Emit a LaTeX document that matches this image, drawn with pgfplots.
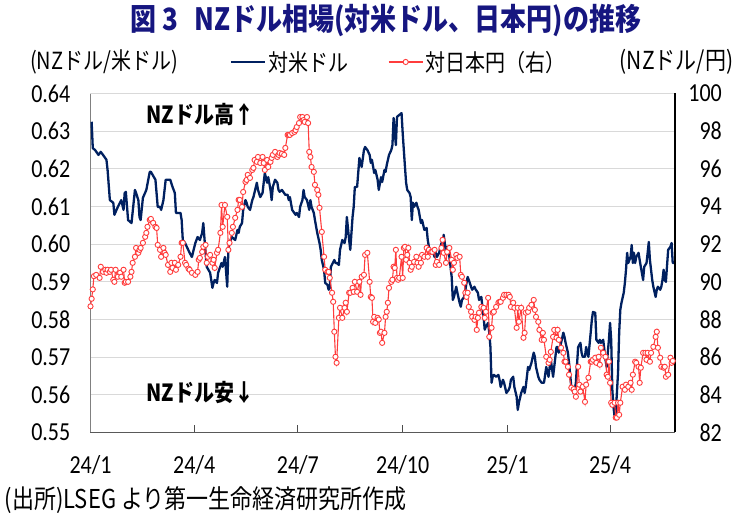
\documentclass[border=0pt]{standalone}
\usepackage{pgfplots}
\pgfplotsset{compat=1.18}
\usepackage{graphicx}
\usepackage{fontspec}
\setmainfont{Carlito}
\newfontfamily\jp{Noto Sans CJK JP}
\definecolor{usdnavy}{RGB}{0,32,96}
\definecolor{jpyred}{RGB}{255,60,60}
\definecolor{titleblue}{RGB}{22,22,128}
\definecolor{gridgray}{RGB}{217,217,217}
\definecolor{axisgray}{RGB}{128,128,128}
\newcommand\numfont{\fontsize{22bp}{24bp}\selectfont}
\newcommand\jpfont{\jp\fontsize{20bp}{22bp}\selectfont}
% text in this chart is set slightly condensed (tall glyphs)
\newcommand\tall[1]{\scalebox{1}[1.18]{#1}}

\pgfplotsset{
  base/.style={
    scale only axis, width=584.5bp, height=339bp,
    xmin=0, xmax=513,
    /pgf/number format/assume math mode=true,
    major tick length=7bp,
  }
}

\begin{document}
\begin{tikzpicture}
\path[use as bounding box] (-90.5bp,-92.5bp) rectangle (654.5bp,432.5bp);

% NZD/USD, left axis (days counted from 2024-01-01)
\begin{axis}[base,
  ymin=0.55, ymax=0.64,
  axis x line*=bottom, axis y line*=left,
  x axis line style={draw=black!65, line width=1.2bp},
  y axis line style={draw=axisgray, line width=1.2bp},
  ytick={0.55,0.56,0.57,0.58,0.59,0.60,0.61,0.62,0.63,0.64},
  ytick style={draw=none},
  ymajorgrids, major grid style={draw=gridgray, line width=1.2bp},
  xtick={0,91,182,274,366,456},
  xticklabels={\tall{24/1},\tall{24/4},\tall{24/7},\tall{24/10},\tall{25/1},\tall{25/4}},
  xtick align=inside,
  xtick style={draw=black!70, line width=1bp},
  xticklabel style={font=\numfont, anchor=center, inner sep=0pt, yshift=-32.5bp},
  yticklabel={\tall{\pgfmathprintnumber[fixed,fixed zerofill,precision=2]{\tick}}},
  yticklabel style={font=\numfont, anchor=east, inner sep=0pt, xshift=-20bp},
  scaled y ticks=false,
]
\addplot[usdnavy, line width=2.3bp, line join=round] coordinates {
(1,0.6325) (2,0.6255) (4,0.6250) (7,0.6237) (9,0.6245) (11,0.6237) (14,0.6224) (15,0.6197) (17,0.6117) (20,0.6110)
(21,0.6078) (24,0.6099) (27,0.6117) (29,0.6091) (30,0.6136) (31,0.6139) (33,0.6064) (36,0.6056) (39,0.6144) (40,0.6136)
(42,0.6117) (43,0.6072) (44,0.6064) (46,0.6123) (49,0.6144) (52,0.6192) (53,0.6192) (57,0.6171) (59,0.6099) (61,0.6099)
(62,0.6091) (64,0.6117) (66,0.6171) (70,0.6171) (72,0.6152) (74,0.6136) (75,0.6083) (79,0.6083) (80,0.6064) (81,0.6011)
(83,0.6003) (87,0.5977) (89,0.5966) (92,0.6003) (94,0.6019) (96,0.6011) (98,0.6030) (99,0.6056) (101,0.5977) (102,0.5940)
(105,0.5924) (107,0.5884) (108,0.5897) (109,0.5905) (111,0.5897) (112,0.5924) (115,0.5950) (116,0.5940) (118,0.5966) (120,0.5887)
(121,0.5985) (122,0.6003) (124,0.6019) (127,0.6011) (129,0.6038) (130,0.6030) (131,0.6046) (133,0.6056) (134,0.6091) (136,0.6117)
(137,0.6110) (138,0.6099) (140,0.6091) (142,0.6117) (143,0.6125) (146,0.6163) (147,0.6144) (149,0.6125) (151,0.6136) (152,0.6163)
(153,0.6189) (155,0.6163) (156,0.6178) (158,0.6144) (159,0.6117) (160,0.6152) (162,0.6171) (164,0.6163) (165,0.6144) (166,0.6139)
(168,0.6144) (171,0.6131) (173,0.6131) (174,0.6117) (175,0.6125) (177,0.6091) (180,0.6078) (181,0.6083) (183,0.6072) (184,0.6099)
(186,0.6117) (187,0.6144) (188,0.6125) (190,0.6117) (192,0.6091) (193,0.6117) (194,0.6099) (196,0.6083) (197,0.6064) (199,0.6030)
(201,0.6003) (202,0.5985) (203,0.5958) (205,0.5932) (206,0.5897) (208,0.5892) (209,0.5879) (210,0.5884) (211,0.5940) (214,0.5958)
(215,0.5950) (216,0.5950) (218,0.5945) (219,0.5985) (221,0.6011) (223,0.6003) (224,0.6019) (225,0.6072) (227,0.6011) (228,0.5985)
(230,0.6072) (231,0.6099) (232,0.6152) (234,0.6152) (236,0.6229) (237,0.6216) (238,0.6205) (240,0.6250) (241,0.6258) (243,0.6250)
(245,0.6237) (246,0.6216) (247,0.6224) (249,0.6189) (250,0.6197) (252,0.6171) (253,0.6144) (255,0.6178) (256,0.6165) (258,0.6197)
(259,0.6192) (260,0.6210) (262,0.6237) (264,0.6250) (265,0.6263) (266,0.6335) (268,0.6263) (269,0.6338) (271,0.6343) (273,0.6348)
(274,0.6295) (275,0.6250) (276,0.6205) (277,0.6163) (278,0.6144) (280,0.6136) (281,0.6125) (282,0.6064) (283,0.6110) (284,0.6099)
(286,0.6110) (287,0.6099) (288,0.6091) (290,0.6056) (291,0.6064) (293,0.6038) (295,0.6043) (296,0.6011) (297,0.5993) (299,0.5977)
(300,0.5985) (302,0.5966) (303,0.5977) (304,0.5966) (306,0.5977) (308,0.6003) (309,0.5993) (310,0.6025) (312,0.5977) (313,0.5993)
(315,0.5966) (317,0.5913) (318,0.5852) (319,0.5860) (321,0.5887) (322,0.5871) (324,0.5844) (325,0.5834) (326,0.5852) (328,0.5860)
(330,0.5897) (331,0.5913) (332,0.5905) (334,0.5887) (335,0.5879) (337,0.5887) (338,0.5880) (340,0.5871) (341,0.5852) (343,0.5860)
(345,0.5807) (346,0.5773) (347,0.5781) (349,0.5791) (350,0.5765) (351,0.5727) (352,0.5632) (353,0.5648) (354,0.5653) (356,0.5648)
(358,0.5653) (359,0.5640) (360,0.5621) (362,0.5640) (363,0.5632) (365,0.5605) (367,0.5613) (368,0.5621) (369,0.5640) (371,0.5648)
(372,0.5621) (374,0.5595) (375,0.5560) (376,0.5579) (378,0.5605) (380,0.5621) (381,0.5605) (382,0.5621) (384,0.5674) (385,0.5666)
(387,0.5685) (389,0.5712) (390,0.5701) (391,0.5674) (393,0.5648) (394,0.5640) (396,0.5632) (397,0.5632) (398,0.5632) (400,0.5674)
(402,0.5648) (403,0.5674) (404,0.5693) (406,0.5648) (407,0.5674) (409,0.5727) (410,0.5727) (411,0.5712) (413,0.5738) (415,0.5765)
(416,0.5754) (417,0.5738) (419,0.5712) (420,0.5685) (422,0.5621) (424,0.5605) (425,0.5613) (426,0.5632) (428,0.5727) (430,0.5738)
(431,0.5712) (432,0.5701) (434,0.5701) (435,0.5727) (437,0.5701) (439,0.5765) (440,0.5799) (441,0.5820) (443,0.5818) (444,0.5746)
(446,0.5738) (447,0.5746) (448,0.5738) (450,0.5746) (452,0.5693) (453,0.5674) (454,0.5712) (455,0.5746) (456,0.5791) (457,0.5746)
(458,0.5613) (459,0.5568) (460,0.5542) (461,0.5552) (463,0.5658) (464,0.5765) (465,0.5826) (466,0.5844) (468,0.5871) (469,0.5897)
(470,0.5932) (471,0.5977) (472,0.5950) (474,0.5966) (475,0.5998) (476,0.5950) (477,0.5977) (478,0.5950) (479,0.5966) (481,0.5977)
(482,0.5958) (483,0.5940) (485,0.5905) (486,0.5940) (488,0.5950) (489,0.5977) (490,0.6006) (491,0.5958) (493,0.5905) (494,0.5887)
(496,0.5860) (497,0.5879) (498,0.5887) (500,0.5879) (501,0.5887) (502,0.5905) (503,0.5932) (504,0.5905) (505,0.5900) (507,0.5985)
(509,0.5993) (510,0.6003) (511,0.5950) (512,0.5950)
};
\node[font=\jpfont\bfseries] at (rel axis cs:0.188,0.937) {\tall{NZドル高↑}};
\node[font=\jpfont\bfseries] at (rel axis cs:0.188,0.1165) {\tall{NZドル安↓}};
\end{axis}

% NZD/JPY, right axis
\begin{axis}[base,
  ymin=82, ymax=100,
  axis y line*=right, axis x line=none,
  y axis line style={draw=black, line width=1.2bp},
  ytick={82,84,86,88,90,92,94,96,98,100},
  ytick style={draw=none},
  yticklabel={\tall{\pgfmathprintnumber{\tick}}},
  yticklabel style={font=\numfont, anchor=east, inner sep=0pt, xshift=47bp},
  legend columns=2,
  legend style={at={(axis description cs:0.527,1)}, anchor=center, yshift=31.5bp,
    draw=none, fill=none, font=\jpfont, inner sep=0pt,
    /tikz/every even column/.append style={column sep=38bp}},
  legend image code/.code={\draw[mark repeat=2,mark phase=2,#1] plot coordinates {(0bp,0bp) (17bp,0bp) (34bp,0bp)};},
]
\addlegendimage{usdnavy, line width=2.3bp}
\addlegendentry{\tall{対米ドル}}
\addplot[jpyred, line width=1.1bp, mark=*, mark size=2.6bp,
  mark options={fill=white, draw=jpyred, line width=0.9bp, solid}] coordinates {
(0,88.70) (1,89.10) (2,89.60) (3,90.30) (5,90.37) (8,90.21) (9,90.80) (11,90.53) (13,90.64) (14,90.48)
(15,90.64) (17,90.53) (18,90.64) (20,90.11) (21,90.00) (22,90.64) (24,90.27) (26,90.48) (27,90.27) (29,90.64)
(30,89.95) (31,90.00) (33,90.00) (35,90.27) (36,90.53) (37,91.01) (39,91.33) (40,91.80) (42,91.54) (43,91.70)
(44,91.80) (46,92.07) (48,92.39) (49,92.60) (50,92.92) (52,93.29) (53,93.34) (55,93.13) (57,92.92) (58,92.86)
(59,91.96) (61,91.70) (62,91.33) (64,91.80) (65,91.54) (66,91.43) (68,90.90) (70,90.53) (71,91.01) (72,90.74)
(74,91.01) (75,90.64) (77,90.90) (79,91.33) (80,92.07) (81,92.07) (83,91.01) (84,90.90) (86,90.70) (87,90.64)
(89,90.48) (92,90.37) (94,90.53) (95,91.17) (96,91.27) (98,91.59) (99,91.86) (101,91.96) (102,91.01) (103,91.33)
(105,91.43) (107,91.01) (108,91.17) (109,90.74) (111,91.54) (112,91.70) (114,92.60) (115,94.08) (116,92.92) (118,94.08)
(120,93.45) (121,91.70) (122,92.07) (124,92.60) (125,92.92) (127,93.40) (129,93.82) (130,94.35) (131,94.35) (133,93.98)
(134,94.77) (136,95.31) (137,95.41) (138,95.68) (140,95.52) (142,95.94) (143,96.05) (144,96.47) (146,96.37) (147,96.63)
(149,96.31) (151,96.63) (152,96.31) (153,95.94) (155,96.47) (156,96.10) (158,96.37) (159,96.58) (160,96.74) (162,96.90)
(164,96.63) (165,96.74) (166,96.84) (168,96.80) (170,96.74) (171,97.11) (173,97.80) (174,97.80) (175,97.80) (177,97.90)
(179,97.96) (180,98.06) (181,98.22) (183,98.43) (184,98.75) (186,98.75) (187,98.59) (188,98.49) (190,98.75) (191,98.43)
(192,96.90) (193,96.63) (194,96.10) (196,95.84) (197,95.15) (199,94.88) (200,94.62) (201,93.93) (203,92.65) (205,91.33)
(206,90.64) (208,90.53) (209,90.53) (210,90.21) (212,89.42) (213,88.94) (214,87.35) (215,86.02) (216,85.70) (218,88.09)
(219,88.62) (221,88.09) (223,88.62) (224,88.89) (225,88.41) (227,89.42) (228,89.42) (230,89.68) (231,89.47) (232,90.00)
(234,89.47) (236,90.00) (237,89.31) (238,90.27) (240,90.37) (241,91.43) (243,91.54) (245,90.00) (246,89.20) (247,89.15)
(248,87.88) (249,88.14) (250,87.82) (252,88.09) (253,88.00) (254,87.29) (255,87.35) (256,86.76) (258,87.29) (259,88.14)
(260,88.41) (261,88.89) (262,89.68) (264,90.00) (265,90.11) (266,90.80) (267,90.74) (268,91.70) (269,90.21) (270,90.11)
(271,90.21) (273,91.33) (274,90.21) (275,91.80) (276,91.86) (277,91.17) (278,91.43) (279,91.80) (280,91.01) (281,90.64)
(282,90.80) (284,91.06) (286,91.33) (287,91.01) (288,90.80) (290,91.01) (291,91.43) (293,91.33) (295,91.80) (296,91.33)
(297,91.70) (299,91.59) (300,91.59) (302,91.70) (303,90.90) (304,91.06) (306,90.90) (308,91.80) (309,92.23) (310,91.54)
(312,91.01) (313,91.59) (315,91.80) (317,91.17) (318,90.64) (319,91.01) (321,91.43) (322,91.27) (324,91.33) (325,90.37)
(326,90.27) (328,89.95) (329,89.42) (330,89.20) (331,89.42) (332,88.67) (334,88.41) (335,88.14) (337,87.98) (338,88.14)
(339,87.45) (340,88.09) (341,88.36) (343,88.67) (345,88.62) (346,88.09) (347,88.41) (349,89.15) (350,87.08) (352,87.56)
(353,88.36) (354,88.41) (356,88.67) (358,88.89) (359,88.94) (360,88.94) (362,89.15) (363,89.31) (365,89.31) (367,89.31)
(368,89.20) (369,88.67) (371,88.89) (372,88.62) (374,87.56) (375,88.62) (376,87.88) (378,88.62) (380,87.03) (381,87.29)
(382,88.36) (384,88.41) (385,88.62) (387,88.78) (389,89.04) (390,88.51) (391,88.14) (393,87.88) (394,87.45) (396,86.92)
(397,87.29) (398,86.92) (400,86.02) (402,85.70) (403,85.86) (404,86.28) (406,87.08) (407,87.45) (409,87.03) (410,87.45)
(411,86.92) (413,86.50) (415,86.23) (416,85.76) (417,85.76) (419,85.49) (420,85.07) (422,84.38) (424,84.30) (425,84.17)
(426,83.90) (428,85.49) (429,84.54) (430,84.17) (432,84.43) (434,83.63) (435,84.54) (437,84.91) (439,85.76) (440,85.76)
(441,85.86) (443,85.97) (444,85.70) (446,86.02) (447,85.60) (448,86.50) (450,86.23) (452,86.02) (453,85.07) (454,84.96)
(455,85.76) (456,84.64) (457,83.58) (458,83.47) (460,83.58) (461,82.79) (462,82.79) (463,83.58) (464,82.94) (465,83.58)
(467,84.43) (469,84.27) (470,84.54) (472,84.43) (474,84.64) (475,84.27) (476,85.07) (478,85.76) (479,85.70) (481,85.49)
(482,84.64) (483,85.44) (485,86.23) (487,86.23) (488,85.86) (489,86.23) (491,85.76) (492,86.23) (494,86.55) (496,87.08)
(497,87.35) (498,86.50) (500,85.97) (501,85.49) (503,85.44) (504,85.49) (505,84.96) (507,85.07) (509,85.97) (510,85.70)
(511,85.80)
};
\addlegendentry{\tall{対日本円（右）}}
\end{axis}

% title, unit captions and source line
\node[font=\jp\bfseries\fontsize{26bp}{28bp}\selectfont, text=titleblue] at (295.5bp,411.5bp)
  {\tall{図 3\hspace{0.6em}NZドル相場(対米ドル、日本円)の推移}};
\node[font=\jpfont] at (13.5bp,370.5bp) {\tall{(NZドル/米ドル)}};
\node[font=\jp\fontsize{21bp}{23bp}\selectfont] at (586bp,370.5bp) {\tall{(NZドル/円)}};
\node[font=\jp\fontsize{22bp}{24bp}\selectfont, anchor=west, inner sep=0pt] at (-86bp,-67.5bp)
  {\tall{(出所)LSEG より第一生命経済研究所作成}};
\end{tikzpicture}
\end{document}
